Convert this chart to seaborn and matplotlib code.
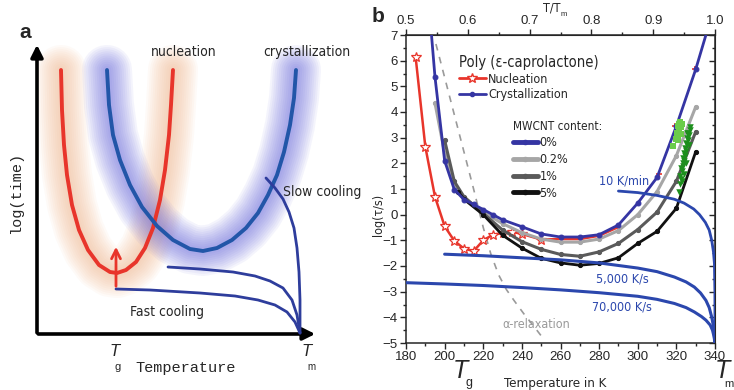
import numpy as np
import pandas as pd
import matplotlib
matplotlib.use("Agg")
import matplotlib.pyplot as plt
from matplotlib.lines import Line2D
import seaborn as sns

sns.set_style("ticks")
plt.rcParams["font.family"] = ["Liberation Sans", "DejaVu Sans"]
NARROW = dict(family="DejaVu Sans", fontstretch="condensed")

# ---------------- Panel a (schematic, arbitrary units: x=temperature, y=log time) ----------
nuc_a_x = [24, 25, 27, 30, 35, 42, 51, 62, 73, 80, 89, 99, 108, 116, 123, 128, 132, 134, 136]
nuc_a_y = [264, 224, 189, 159, 129, 104, 84, 69, 62, 61, 64, 72, 86, 106, 134, 164, 199, 229, 264]
cry_a_x = [70, 72, 76, 83, 93, 105, 120, 136, 153, 166, 180, 195, 209, 221, 231, 240, 247, 253, 257, 259]
cry_a_y = [264, 229, 199, 174, 149, 127, 108, 94, 85, 83, 86, 94, 106, 121, 139, 159, 182, 209, 236, 264]
fast1_x = [79, 113, 163, 198, 221, 238, 250, 258, 263]
fast1_y = [45, 44, 41, 38, 34, 29, 22, 12, 1]
fast2_x = [131, 163, 196, 218, 233, 246, 255, 260, 263]
fast2_y = [67, 65, 62, 58, 53, 46, 34, 19, 1]
slow_x = [229, 238, 246, 252, 257, 260, 262, 263, 263]
slow_y = [156, 146, 135, 122, 106, 86, 62, 34, 1]

# ---------------- Panel b data ----------------
nuc_T = [185, 190, 195, 200, 205, 210, 215, 220, 225, 230, 235, 240, 250, 260, 270, 280, 290]
nuc_v = [6.13, 2.65, 0.7, -0.45, -1.02, -1.32, -1.42, -1.0, -0.78, -0.72, -0.67, -0.75, -0.97, -0.95, -0.95, -0.82, -0.48]
nuc_hi_T = [311, 319.2, 329.5]
nuc_hi_v = [1.57, 3.45, 5.66]

c0_T = [193.2, 195, 200, 205, 210, 215, 220, 225, 230, 240, 250, 260, 270, 280, 290, 300, 310, 320, 330, 335.3]
c0_v = [7.0, 5.37, 2.1, 0.98, 0.59, 0.4, 0.2, 0.0, -0.2, -0.47, -0.75, -0.87, -0.87, -0.78, -0.4, 0.45, 1.45, 3.45, 5.66, 7.0]
c02_T = [195, 200, 205, 210, 220, 230, 240, 250, 260, 270, 280, 290, 300, 310, 320, 330]
c02_v = [4.35, 2.4, 1.2, 0.65, 0.1, -0.35, -0.7, -0.95, -1.07, -1.07, -0.95, -0.62, 0.0, 0.9, 2.3, 4.2]
c1_T = [200, 205, 210, 220, 230, 240, 250, 260, 270, 280, 290, 300, 310, 320, 330]
c1_v = [2.9, 1.3, 0.7, 0.05, -0.6, -1.05, -1.35, -1.55, -1.62, -1.45, -1.12, -0.58, 0.1, 1.3, 3.23]
c5_T = [207, 210, 220, 230, 240, 250, 260, 270, 280, 290, 300, 310, 320, 330]
c5_v = [0.9, 0.6, 0.0, -0.8, -1.3, -1.7, -1.88, -1.97, -1.9, -1.68, -1.12, -0.65, 0.25, 2.45]

alpha_T = [195.5, 200, 205, 210, 215, 220, 224, 228, 232, 236, 241, 246, 250.5]
alpha_v = [6.65, 5.35, 3.9, 2.45, 1.0, -0.5, -1.55, -2.35, -2.92, -3.35, -3.86, -4.33, -4.77]

q10_T = [290, 300, 310, 319, 324, 329, 332, 335, 337, 338.3, 339.2, 339.7, 339.95, 340]
q10_v = [0.92, 0.86, 0.75, 0.6, 0.45, 0.22, 0.0, -0.3, -0.6, -1.0, -1.45, -1.9, -3.0, -5.0]
q5k_T = [200, 220, 240, 260, 280, 300, 310, 319, 325, 329.3, 332.5, 335.3, 337, 338.3, 339.2, 339.7, 340]
q5k_v = [-1.54, -1.6, -1.68, -1.76, -1.88, -2.08, -2.22, -2.43, -2.62, -2.82, -3.05, -3.34, -3.62, -3.99, -4.35, -4.77, -5.0]
q70k_T = [180, 200, 220, 240, 260, 280, 300, 310, 319, 325, 329.3, 333, 335.3, 337.5, 338.7, 339.5, 340]
q70k_v = [-2.65, -2.7, -2.76, -2.84, -2.93, -3.04, -3.18, -3.3, -3.46, -3.62, -3.79, -3.97, -4.11, -4.3, -4.5, -4.75, -5.0]

gl_T = [318.3, 319.6, 320.2, 320.6, 320.8, 321.2, 321.6, 322.0, 322.3, 322.6, 323.0]
gl_v = [2.68, 2.95, 3.2, 3.45, 2.9, 3.3, 3.55, 3.6, 3.15, 3.4, 3.55]
gd_T = [321.3, 321.8, 322.0, 322.4, 322.6, 323.0, 323.3, 323.5, 323.9, 324.2, 324.4, 324.8, 325.0,
        325.3, 325.6, 325.9, 326.2, 326.5, 326.8, 327.1, 322.8, 323.6, 324.6, 325.4, 326.3, 324.0, 325.2]
gd_v = [0.9, 1.2, 1.5, 1.4, 1.8, 1.7, 2.0, 2.2, 2.1, 2.4, 2.6, 2.5, 2.8,
        2.7, 3.0, 2.9, 3.2, 3.1, 3.3, 3.4, 1.3, 1.9, 2.3, 3.2, 2.7, 1.6, 2.0]

top_ticks = [0.5, 0.6, 0.7, 0.8, 0.9, 1.0]

RED = "#e8352b"
NAVY = "#3535a3"
LGRAY = "#a6a6a6"
DGRAY = "#5a5a5a"
BLACK = "#111111"
CBLUE = "#2b47ad"

fig = plt.figure(figsize=(7.34, 3.9), dpi=100)

# ================= Panel a =================
axa = fig.add_axes([0, 0, 367 / 734, 1])
axa.set_xlim(-37, 330)
axa.set_ylim(-56, 334)
axa.axis("off")

def glow(x, y, color, alpha):
    for w in range(36, 3, -3):
        sns.lineplot(x=x, y=y, ax=axa, sort=False, estimator=None, color=color,
                     lw=w, alpha=alpha, solid_capstyle="round", zorder=1)

glow(nuc_a_x, nuc_a_y, "#f5b48a", 0.065)
glow(cry_a_x, cry_a_y, "#6464dc", 0.065)
sns.lineplot(x=nuc_a_x, y=nuc_a_y, ax=axa, sort=False, estimator=None, color=RED, lw=2.8, zorder=3)
sns.lineplot(x=cry_a_x, y=cry_a_y, ax=axa, sort=False, estimator=None, color="#2256a8", lw=2.8, zorder=3)
for xs, ys in [(fast1_x, fast1_y), (fast2_x, fast2_y), (slow_x, slow_y)]:
    sns.lineplot(x=xs, y=ys, ax=axa, sort=False, estimator=None, color="#2e3d9c", lw=2.0, zorder=4)
axa.annotate("", xy=(fast1_x[0], 90), xytext=(fast1_x[0], fast1_y[0]),
             arrowprops=dict(arrowstyle="->", color=RED, lw=2.0, mutation_scale=16), zorder=5)
# axes arrows
axa.annotate("", xy=(0, 292), xytext=(0, -1.5),
             arrowprops=dict(arrowstyle="-|>", color="black", lw=2.6, mutation_scale=18))
axa.annotate("", xy=(281, 0), xytext=(-1.5, 0),
             arrowprops=dict(arrowstyle="-|>", color="black", lw=2.6, mutation_scale=18))

axa.text(-12, 302, "a", fontsize=15, fontweight="bold", ha="center", va="center")
axa.text(114, 282, "nucleation", fontsize=10, ha="left", va="center", **NARROW)
axa.text(226, 282, "crystallization", fontsize=10, ha="left", va="center", **NARROW)
axa.text(246, 142, "Slow cooling", fontsize=10, ha="left", va="center", **NARROW)
axa.text(93, 22, "Fast cooling", fontsize=10, ha="left", va="center", **NARROW)
axa.text(-21, 141, "log(time)", fontsize=11, family=["Liberation Mono", "DejaVu Sans Mono"],
         rotation=90, ha="center", va="center")
axa.text(149, -34, "Temperature", fontsize=11, family=["Liberation Mono", "DejaVu Sans Mono"],
         ha="center", va="center")
axa.text(78, -18, "T", fontsize=12, style="italic", ha="center", va="center")
axa.text(81, -33, "g", fontsize=8, ha="center", va="center")
axa.text(270, -18, "T", fontsize=12, style="italic", ha="center", va="center")
axa.text(274, -33, "m", fontsize=7, ha="center", va="center")

# ================= Panel b =================
x0, x1 = 406 / 734, 715 / 734
y0, y1 = (390 - 343) / 390, (390 - 35) / 390
ax = fig.add_axes([x0, y0, x1 - x0, y1 - y0])
ax.set_xlim(180, 340)
ax.set_ylim(-5, 7)

def lp(x, y, color, lw=2.0, z=3, **kw):
    sns.lineplot(x=x, y=y, ax=ax, sort=False, estimator=None, color=color, lw=lw, zorder=z, **kw)

lp(alpha_T, alpha_v, "#9a9a9a", lw=1.2, z=2, linestyle=(0, (4, 4)))
ax.plot(nuc_hi_T, nuc_hi_v, ls="none", marker="+", color=RED, ms=5, mew=1.2, zorder=2)
lp(nuc_T, nuc_v, RED, lw=1.8, z=3, marker="*", ms=7, mfc="white", mec=RED, mew=0.9,
   markevery=list(range(0, 13)))
lp(c02_T, c02_v, LGRAY, lw=2.2, z=3, marker="o", ms=3, mec=LGRAY)
lp(c1_T, c1_v, DGRAY, lw=2.2, z=3, marker="o", ms=3, mec=DGRAY)
lp(c5_T, c5_v, BLACK, lw=2.0, z=3, marker="o", ms=3, mec=BLACK)
lp(c0_T, c0_v, NAVY, lw=2.0, z=4, marker="o", ms=3.5, mec=NAVY,
   markevery=list(range(1, len(c0_T) - 1)))
sns.scatterplot(x=gl_T, y=gl_v, ax=ax, color="#6bcc4a", marker="s", s=22, linewidth=0, zorder=5)
sns.scatterplot(x=gd_T, y=gd_v, ax=ax, color="#1d8f1d", marker="v", s=22, linewidth=0, zorder=5)
lp(q10_T, q10_v, CBLUE, lw=2.0, z=6)
lp(q5k_T, q5k_v, CBLUE, lw=2.2, z=6)
lp(q70k_T, q70k_v, CBLUE, lw=2.2, z=6)

ax.text(293, 1.3, "10 K/min", color=CBLUE, fontsize=9, ha="center", va="center", **NARROW)
ax.text(292, -2.5, "5,000 K/s", color=CBLUE, fontsize=9, ha="center", va="center", **NARROW)
ax.text(291.7, -3.6, "70,000 K/s", color=CBLUE, fontsize=9, ha="center", va="center", **NARROW)
ax.text(247.5, -4.27, "α-relaxation", color="#9a9a9a", fontsize=9, ha="center", va="center", **NARROW)

ax.set_xticks(range(180, 341, 20))
ax.set_xticks(range(190, 341, 20), minor=True)
ax.set_yticks(range(-5, 8))
ax.set_yticks(np.arange(-4.5, 7, 1.0), minor=True)
ax.tick_params(axis="both", which="major", direction="out", length=4, width=1, labelsize=9.5, pad=2)
ax.tick_params(axis="both", which="minor", direction="out", length=2.5, width=1)
for s in ax.spines.values():
    s.set_linewidth(1.1)
ax.set_xlabel("")
ax.set_ylabel("")

secx = ax.secondary_xaxis("top", functions=(lambda t: 0.5 + (t - 180) / 320.0,
                                            lambda r: 180 + (r - 0.5) * 320.0))
secx.set_xticks(top_ticks)
secx.set_xticklabels([f"{t:.1f}" for t in top_ticks])
secx.set_xticks(np.arange(0.55, 1.0, 0.1), minor=True)
secx.tick_params(which="major", direction="out", length=4, width=1, labelsize=9.5, pad=2)
secx.tick_params(which="minor", direction="out", length=2.5, width=1)

secy = ax.secondary_yaxis("right")
secy.set_yticks(range(-5, 8))
secy.set_yticks(np.arange(-4.5, 7, 1.0), minor=True)
secy.tick_params(which="major", direction="in", length=4, width=1, labelright=False)
secy.tick_params(which="minor", direction="in", length=2.5, width=1)

CF = dict(family="DejaVu Sans", stretch="condensed")
leg1 = ax.legend(handles=[Line2D([], [], color=RED, lw=2, marker="*", ms=7, mfc="white", mec=RED),
                          Line2D([], [], color=NAVY, lw=2, marker="o", ms=3)],
                 labels=["Nucleation", "Crystallization"], title="Poly (ε-caprolactone)",
                 loc="upper left", bbox_to_anchor=(0.17, 0.935), frameon=False, alignment="left",
                 handlelength=2.2, handletextpad=0.15, borderaxespad=0, borderpad=0,
                 labelspacing=0.2, prop=dict(size=9, **CF),
                 title_fontproperties=dict(size=10.5, **CF))
ax.add_artist(leg1)
ax.legend(handles=[Line2D([], [], color=c, lw=3.5, marker="o", ms=3)
                   for c in [NAVY, LGRAY, DGRAY, BLACK]],
          labels=["0%", "0.2%", "1%", "5%"], title="MWCNT content:",
          loc="upper left", bbox_to_anchor=(0.345, 0.725), frameon=False, alignment="left",
          handlelength=2.0, handletextpad=0.15, borderaxespad=0, borderpad=0,
          labelspacing=0.3, prop=dict(size=9, **CF),
          title_fontproperties=dict(size=8.5, **CF))

fig.text(378 / 734, 1 - 17 / 390, "b", fontsize=15, fontweight="bold", ha="center", va="center")
fig.text(378 / 734, 1 - 215 / 390, "log(τ/s)", fontsize=9, rotation=90, ha="center", va="center",
         **NARROW)
fig.text(555 / 734, 1 - 383 / 390, "Temperature in K", fontsize=9.5, ha="center", va="center",
         **NARROW)
fig.text(552 / 734, 1 - 8 / 390, "T/T", fontsize=9, ha="center", va="center", **NARROW)
fig.text(564 / 734, 1 - 15 / 390, "m", fontsize=5.5, ha="center", va="center")
fig.text(460 / 734, 1 - 371 / 390, "T", fontsize=18, style="italic", ha="center", va="center")
fig.text(469 / 734, 1 - 383 / 390, "g", fontsize=9, ha="center", va="center")
fig.text(722 / 734, 1 - 371 / 390, "T", fontsize=18, style="italic", ha="center", va="center")
fig.text(729 / 734, 1 - 384 / 390, "m", fontsize=8, ha="center", va="center")

fig.savefig("out.png", dpi=100)
